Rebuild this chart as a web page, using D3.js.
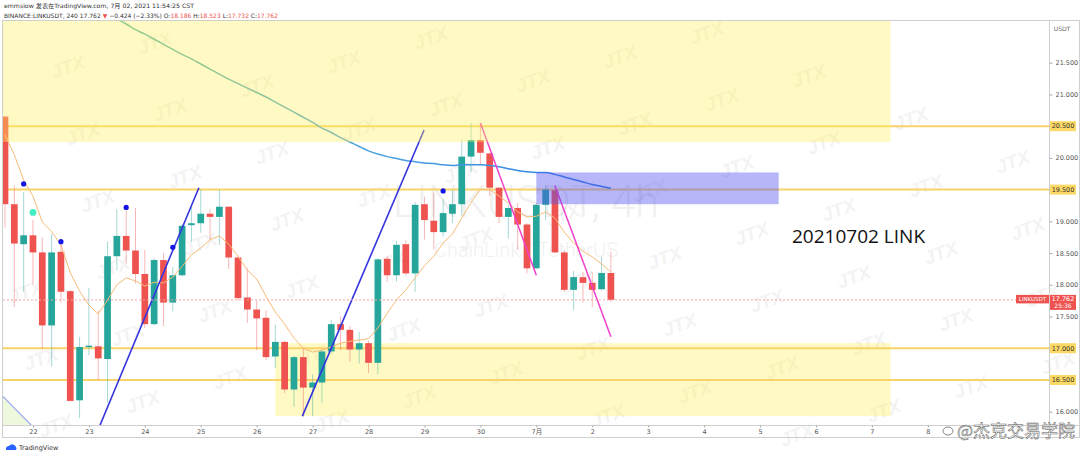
<!DOCTYPE html>
<html>
<head>
<meta charset="utf-8">
<script src="https://cdn.jsdelivr.net/npm/d3@7"></script>
<style>
  body { margin: 0; background: #fff; }
  svg { display: block; font-family: "DejaVu Sans", "Noto Sans CJK SC", sans-serif; }
</style>
</head>
<body>
<div id="chart"></div>
<script>
// LINKUSDT 4h candles, first one opens 21 Jun 12:00 (UTC in the axis sense)
var firstCandle = "2021-06-21T12:00:00Z";
var opens  = [20.65,19.27,18.64,18.78,18.51,17.36,18.52,17.90,16.18,17.02,17.03,16.83,18.45,18.77,18.54,18.17,17.38,18.39,17.72,18.15,18.94,18.97,19.12,19.07,19.23,18.43,17.80,17.61,17.48,16.87,17.10,16.35,16.86,16.38,16.46,16.95,17.38,17.29,16.98,17.08,16.77,18.41,18.15,18.64,18.18,19.27,19.01,18.83,19.12,19.27,20.02,20.28,20.07,19.53,19.07,19.21,18.95,18.26,19.26,19.49,18.51,17.92,18.12,18.03,17.93,18.186];
var highs  = [20.66,19.57,19.46,19.02,18.75,18.80,18.68,17.92,17.18,17.95,17.60,18.68,19.19,19.17,19.21,18.55,18.42,18.50,18.28,18.95,19.23,19.50,19.19,19.50,19.24,18.45,18.26,17.75,17.60,17.37,17.12,16.88,17.00,16.59,16.99,17.45,17.50,17.35,17.26,17.12,18.42,18.45,18.69,18.70,19.30,19.39,19.45,19.35,19.50,20.29,20.55,20.55,20.08,19.54,19.26,19.29,18.97,19.28,19.57,19.57,18.55,18.22,18.20,18.20,18.44,18.523];
var lows   = [18.90,17.65,17.89,18.01,16.99,16.71,17.72,16.16,15.90,16.89,16.50,16.14,18.23,18.33,18.02,17.32,17.36,17.35,17.58,18.13,18.68,18.82,18.71,18.63,18.25,17.75,17.40,16.97,16.81,16.69,16.29,16.08,15.92,15.93,16.14,16.93,16.97,16.79,16.76,16.61,16.59,18.05,18.05,18.15,17.89,18.71,18.56,18.76,18.97,19.08,19.78,19.89,19.40,18.97,18.73,18.55,18.18,18.24,19.02,18.50,17.90,17.60,17.72,17.65,17.91,17.732];
var closes = [19.27,18.65,18.78,18.51,17.36,18.51,17.89,16.17,17.02,17.04,16.84,18.45,18.77,18.54,18.17,17.38,18.39,17.72,18.15,18.93,18.97,19.12,19.07,19.23,18.43,17.79,17.61,17.47,16.86,17.10,16.35,16.86,16.38,16.46,16.95,17.38,17.29,16.98,17.08,16.77,18.40,18.15,18.63,18.18,19.26,19.02,18.83,19.13,19.27,20.02,20.28,20.08,19.53,19.07,19.21,18.95,18.26,19.26,19.50,18.51,17.92,18.12,18.03,17.92,18.186,17.762];

// short moving average (orange), one value per candle
var maShort = [20.36,20.05,19.65,19.40,18.99,18.84,18.63,18.19,17.90,17.68,17.54,17.76,18.00,18.11,18.06,17.98,18.04,18.03,18.12,18.29,18.47,18.58,18.71,18.77,18.64,18.45,18.23,18.09,17.82,17.57,17.38,17.16,17.00,16.94,16.97,17.02,17.08,17.11,17.13,17.15,17.32,17.55,17.76,17.92,18.11,18.30,18.45,18.66,18.80,19.05,19.30,19.50,19.50,19.40,19.29,19.15,19.07,19.08,19.15,19.05,18.83,18.66,18.53,18.44,18.33,18.20];
// long moving average (teal/blue), visible from candle 12
var maLongFrom = 12;
var maLong = [22.19,22.11,22.02,21.95,21.87,21.79,21.71,21.63,21.56,21.48,21.40,21.32,21.24,21.17,21.10,21.03,20.96,20.88,20.80,20.72,20.64,20.56,20.47,20.40,20.32,20.25,20.18,20.11,20.06,20.02,19.99,19.96,19.94,19.92,19.91,19.89,19.88,19.89,19.89,19.89,19.88,19.86,19.83,19.80,19.78,19.77,19.77,19.74,19.70,19.66,19.62,19.58,19.55,19.52];

var blueDotIdx = [2, 6, 13, 18, 47];
var blueDotVal = [19.59, 18.68, 19.22, 18.59, 19.48];
var mintDotIdx = [3];
var mintDotVal = [19.14];

// drawings: [candle index, price]
var blueLines = [[[10.2, 15.79], [20.8, 19.53]], [[31.9, 15.93], [44.96, 20.44]]];
var pinkLines = [[[51.0, 20.55], [57.0, 18.15]], [[59.0, 19.56], [65.0, 17.18]]];
var cornerLine = [[-0.215, 16.24], [2.79, 15.79]];

// zones: [from index, to index, low, high]
var supplyZone = [-0.215, 95, 20.25, 22.4];
var demandZone = [29, 95, 15.93, 17.08];
var blueZone = [57, 83, 19.27, 19.77];

var levels = [20.5, 19.5, 17.0, 16.5];
var lastPrice = 17.762;
var priceTicks = [16, 16.5, 17, 17.5, 18, 18.5, 19, 19.5, 20, 20.5, 21, 21.5];
var dayTicks = ["2021-06-22","2021-06-23","2021-06-24","2021-06-25","2021-06-26","2021-06-27","2021-06-28","2021-06-29","2021-06-30","2021-07-01","2021-07-02","2021-07-03","2021-07-04","2021-07-05","2021-07-06","2021-07-07","2021-07-08"];

var W = 1080, H = 457;
var plot = { left: 3, right: 1049, top: 21, bottom: 425 };

var t0 = new Date(firstCandle);
function tAt(i) { return new Date(t0.getTime() + i * 4 * 3600 * 1000); }

var svg = d3.select("#chart").append("svg").attr("width", W).attr("height", H);
var defs = svg.append("defs");

var x = d3.scaleUtc().domain([tAt(-0.215), tAt(112)]).range([plot.left, plot.right]);
var y = d3.scaleLinear().domain([16, 21.5]).range([411.7, 62.7]);
var xi = function(i) { return x(tAt(i)); };

defs.append("clipPath").attr("id", "plotclip").append("rect")
    .attr("x", plot.left).attr("y", plot.top)
    .attr("width", plot.right - plot.left).attr("height", plot.bottom - plot.top);

svg.append("rect").attr("width", W).attr("height", H).attr("fill", "#fff");

// JTX watermark lattice (only marks that sit fully inside the picture, clear of the header)
var wm = svg.append("g");
for (var m = -6; m < 14; m++) {
    for (var n = -6; n < 10; n++) {
        var px = 85 + m * 102 + n * 15;
        var py = 140 + m * 43 + n * 67;
        if (px < 20 || px > W - 20 || py < 34 || py > H - 12) continue;
        wm.append("text")
            .attr("transform", "translate(" + px + "," + py + ") rotate(-20)")
            .attr("text-anchor", "middle")
            .attr("font-family", "Liberation Sans, sans-serif")
            .attr("font-size", 19).attr("font-weight", "bold").attr("font-style", "italic")
            .attr("fill", "#000").attr("opacity", 0.045)
            .text("JTX");
    }
}

var g = svg.append("g").attr("clip-path", "url(#plotclip)");

// symbol watermark
var cx = (plot.left + plot.right) / 2;
g.append("text").attr("x", cx).attr("y", 217).attr("text-anchor", "middle")
    .attr("font-family", "Roboto, sans-serif").attr("font-weight", 300)
    .attr("font-size", 44).attr("fill", "#000").attr("opacity", 0.055)
    .text("LINKUSDT, 4h");
g.append("text").attr("x", cx).attr("y", 257).attr("text-anchor", "middle")
    .attr("font-family", "Roboto, sans-serif").attr("font-weight", 300)
    .attr("font-size", 20).attr("fill", "#000").attr("opacity", 0.055)
    .text("ChainLink / TetherUS");

// corner fill + line
g.append("path")
    .attr("d", "M" + xi(cornerLine[0][0]) + "," + y(cornerLine[0][1]) +
        "L" + xi(cornerLine[1][0]) + "," + y(cornerLine[1][1]) +
        "L" + xi(cornerLine[0][0]) + "," + y(cornerLine[1][1]) + "Z")
    .attr("fill", "#eef8dc");

function zoneRect(z, fill) {
    return g.append("rect")
        .attr("x", xi(z[0])).attr("width", xi(z[1]) - xi(z[0]))
        .attr("y", y(z[3])).attr("height", y(z[2]) - y(z[3]))
        .attr("fill", fill);
}
zoneRect(demandZone, "rgba(255,241,90,0.36)");

// level lines
g.selectAll(".level").data(levels).enter().append("line")
    .attr("x1", plot.left).attr("x2", plot.right)
    .attr("y1", function(d) { return y(d); }).attr("y2", function(d) { return y(d); })
    .attr("stroke", "#f8d36a").attr("stroke-width", 2);

// candles
var candles = d3.range(opens.length).map(function(i) {
    return { i: i, o: opens[i], h: highs[i], l: lows[i], c: closes[i], up: closes[i] >= opens[i] };
});
var bodyW = (xi(1) - xi(0)) * 0.72;

g.selectAll(".wick").data(candles).enter().append("line")
    .attr("x1", function(d) { return xi(d.i); }).attr("x2", function(d) { return xi(d.i); })
    .attr("y1", function(d) { return y(d.h); }).attr("y2", function(d) { return y(d.l); })
    .attr("stroke", function(d) { return d.up ? "rgba(38,166,154,0.42)" : "rgba(239,83,80,0.42)"; })
    .attr("stroke-width", 1);

g.selectAll(".body").data(candles).enter().append("rect")
    .attr("x", function(d) { return xi(d.i) - bodyW / 2; })
    .attr("width", bodyW)
    .attr("y", function(d) { return y(Math.max(d.o, d.c)); })
    .attr("height", function(d) { return Math.max(1.5, Math.abs(y(d.o) - y(d.c))); })
    .attr("fill", function(d) { return d.up ? "#26a69a" : "#ef5350"; });

// moving averages
var line = d3.line().x(function(d) { return xi(d[0]); }).y(function(d) { return y(d[1]); });
g.append("path")
    .datum(maShort.map(function(v, i) { return [i, v]; }))
    .attr("d", line).attr("fill", "none")
    .attr("stroke", "#f8bb78").attr("stroke-width", 1);

var grad = defs.append("linearGradient").attr("id", "malong")
    .attr("gradientUnits", "userSpaceOnUse")
    .attr("x1", xi(maLongFrom)).attr("x2", xi(maLongFrom + maLong.length - 1))
    .attr("y1", 0).attr("y2", 0);
grad.append("stop").attr("offset", "0%").attr("stop-color", "#5cb8a6");
grad.append("stop").attr("offset", "55%").attr("stop-color", "#4a9fe0");
grad.append("stop").attr("offset", "100%").attr("stop-color", "#2f7de8");

g.append("path")
    .datum(maLong.map(function(v, k) { return [maLongFrom + k, v]; }))
    .attr("d", line.curve(d3.curveMonotoneX)).attr("fill", "none")
    .attr("stroke", "url(#malong)").attr("stroke-width", 1.5);
line.curve(d3.curveLinear);

// trend drawings
g.append("path").datum(cornerLine).attr("d", line)
    .attr("stroke", "#9ea9f0").attr("stroke-width", 1.2).attr("fill", "none");
blueLines.forEach(function(seg) {
    g.append("path").datum(seg).attr("d", line)
        .attr("stroke", "#3434e0").attr("stroke-width", 1.6).attr("fill", "none");
});
pinkLines.forEach(function(seg) {
    g.append("path").datum(seg).attr("d", line)
        .attr("stroke", "#f23fcb").attr("stroke-width", 1.5).attr("fill", "none");
});

// signal dots
blueDotIdx.forEach(function(i, k) {
    g.append("circle").attr("cx", xi(i)).attr("cy", y(blueDotVal[k])).attr("r", 2.6).attr("fill", "#1515e6");
});
mintDotIdx.forEach(function(i, k) {
    g.append("circle").attr("cx", xi(i)).attr("cy", y(mintDotVal[k])).attr("r", 3.4).attr("fill", "#41f0c3");
});

// overlay zones
zoneRect(supplyZone, "rgba(255,241,90,0.36)");
zoneRect(blueZone, "rgba(80,80,238,0.42)");

// last price line
g.append("line")
    .attr("x1", plot.left).attr("x2", plot.right)
    .attr("y1", y(lastPrice)).attr("y2", y(lastPrice))
    .attr("stroke", "#f4a3a3").attr("stroke-width", 1).attr("stroke-dasharray", "2,2");

// annotation
svg.append("text").attr("x", 792).attr("y", 243)
    .attr("font-family", "Open Sans, sans-serif").attr("font-size", 19).attr("fill", "#111")
    .text("20210702 LINK");

// frame
svg.append("rect").attr("x", 2.5).attr("y", 20.5).attr("width", 1077).attr("height", 417)
    .attr("fill", "none").attr("stroke", "#cfcfcf");
svg.append("line").attr("x1", 1049.5).attr("x2", 1049.5).attr("y1", 20.5).attr("y2", 437.5).attr("stroke", "#cfcfcf");
svg.append("line").attr("x1", 2.5).attr("x2", 1079.5).attr("y1", 425.5).attr("y2", 425.5).attr("stroke", "#cfcfcf");

// price axis (level boxes replace the labels they sit on)
var yAxis = d3.axisRight(y).tickValues(priceTicks).tickSize(3).tickPadding(3)
    .tickFormat(function(d) { return levels.indexOf(d) >= 0 ? "" : d3.format(".3f")(d); });
var ya = svg.append("g").attr("transform", "translate(1049.5,0)").call(yAxis);
ya.select(".domain").remove();
ya.selectAll("line").attr("stroke", "#aaa");
ya.selectAll("text").attr("font-size", 6.5).attr("fill", "#555").attr("font-family", "DejaVu Sans, sans-serif");
svg.append("text").attr("x", 1062).attr("y", 31).attr("text-anchor", "middle")
    .attr("font-size", 6).attr("fill", "#666").text("USDT");

// time axis
var xAxis = d3.axisBottom(x).tickValues(dayTicks.map(function(d) { return new Date(d + "T00:00:00Z"); }))
    .tickSize(2).tickPadding(2)
    .tickFormat(function(d) { return d.getUTCDate() === 1 ? (d.getUTCMonth() + 1) + "月" : d.getUTCDate(); });
var xa = svg.append("g").attr("transform", "translate(0,425.5)").call(xAxis);
xa.select(".domain").remove();
xa.selectAll("line").attr("stroke", "#aaa");
xa.selectAll("text").attr("font-size", 6.5).attr("fill", "#555").attr("font-family", "DejaVu Sans, Noto Sans CJK SC, sans-serif");

// level labels
var lv = svg.selectAll(".lvlab").data(levels).enter().append("g");
lv.append("rect").attr("x", 1050).attr("width", 26)
    .attr("y", function(d) { return y(d) - 5; }).attr("height", 10).attr("fill", "#fcd865");
lv.append("text").attr("x", 1063).attr("y", function(d) { return y(d) + 2.3; })
    .attr("text-anchor", "middle").attr("font-size", 6.5).attr("fill", "#333")
    .text(function(d) { return d3.format(".3f")(d); });

// last price labels
var py0 = y(lastPrice);
svg.append("rect").attr("x", 1016).attr("y", py0 - 5).attr("width", 33).attr("height", 8.5).attr("fill", "#ef5350");
svg.append("text").attr("x", 1032.5).attr("y", py0 + 1.5).attr("text-anchor", "middle")
    .attr("font-size", 5.5).attr("fill", "#fff").text("LINKUSDT");
svg.append("rect").attr("x", 1050).attr("y", py0 - 5).attr("width", 26).attr("height", 15).attr("fill", "#ef5350");
svg.append("text").attr("x", 1063).attr("y", py0 + 1.5).attr("text-anchor", "middle")
    .attr("font-size", 6.5).attr("fill", "#fff").text(d3.format(".3f")(lastPrice));
svg.append("text").attr("x", 1063).attr("y", py0 + 8.3).attr("text-anchor", "middle")
    .attr("font-size", 6).attr("fill", "#fff").text("25:36");

// header
svg.append("text").attr("x", 4).attr("y", 8).attr("font-size", 6).attr("fill", "#333")
    .attr("textLength", 190).attr("lengthAdjust", "spacingAndGlyphs")
    .text("emmsiow 发表在TradingView.com, 7月 02, 2021 11:54:25 CST");
var h2 = svg.append("text").attr("x", 4).attr("y", 17.8).attr("font-size", 6).attr("fill", "#333")
    .attr("textLength", 274).attr("lengthAdjust", "spacingAndGlyphs");
h2.append("tspan").text("BINANCE:LINKUSDT, 240 17.762 ");
h2.append("tspan").attr("fill", "#ef5350").text("▼");
h2.append("tspan").text(" −0.424 (−2.33%) O:");
h2.append("tspan").attr("fill", "#ef5350").text("18.186");
h2.append("tspan").text(" H:");
h2.append("tspan").attr("fill", "#ef5350").text("18.523");
h2.append("tspan").text(" L:");
h2.append("tspan").attr("fill", "#ef5350").text("17.732");
h2.append("tspan").text(" C:");
h2.append("tspan").attr("fill", "#ef5350").text("17.762");

// TradingView mark
svg.append("path").attr("d", "M6,450 a3,3 0 0 1 3,-4 a4,4 0 0 1 7,1 a2.5,2.5 0 0 1 0,3 Z").attr("fill", "#2962ff");
svg.append("text").attr("x", 19).attr("y", 450).attr("font-size", 6.5).attr("fill", "#333").text("TradingView");

// weibo credit
svg.append("ellipse").attr("cx", 948).attr("cy", 431).attr("rx", 5).attr("ry", 4)
    .attr("fill", "none").attr("stroke", "#555").attr("stroke-width", 0.7);
svg.append("text").attr("x", 957).attr("y", 437)
    .attr("font-family", "Noto Sans CJK SC, sans-serif").attr("font-size", 17)
    .attr("fill", "#fff").attr("stroke", "#555").attr("stroke-width", 0.5)
    .text("@杰克交易学院");
</script>
</body>
</html>
